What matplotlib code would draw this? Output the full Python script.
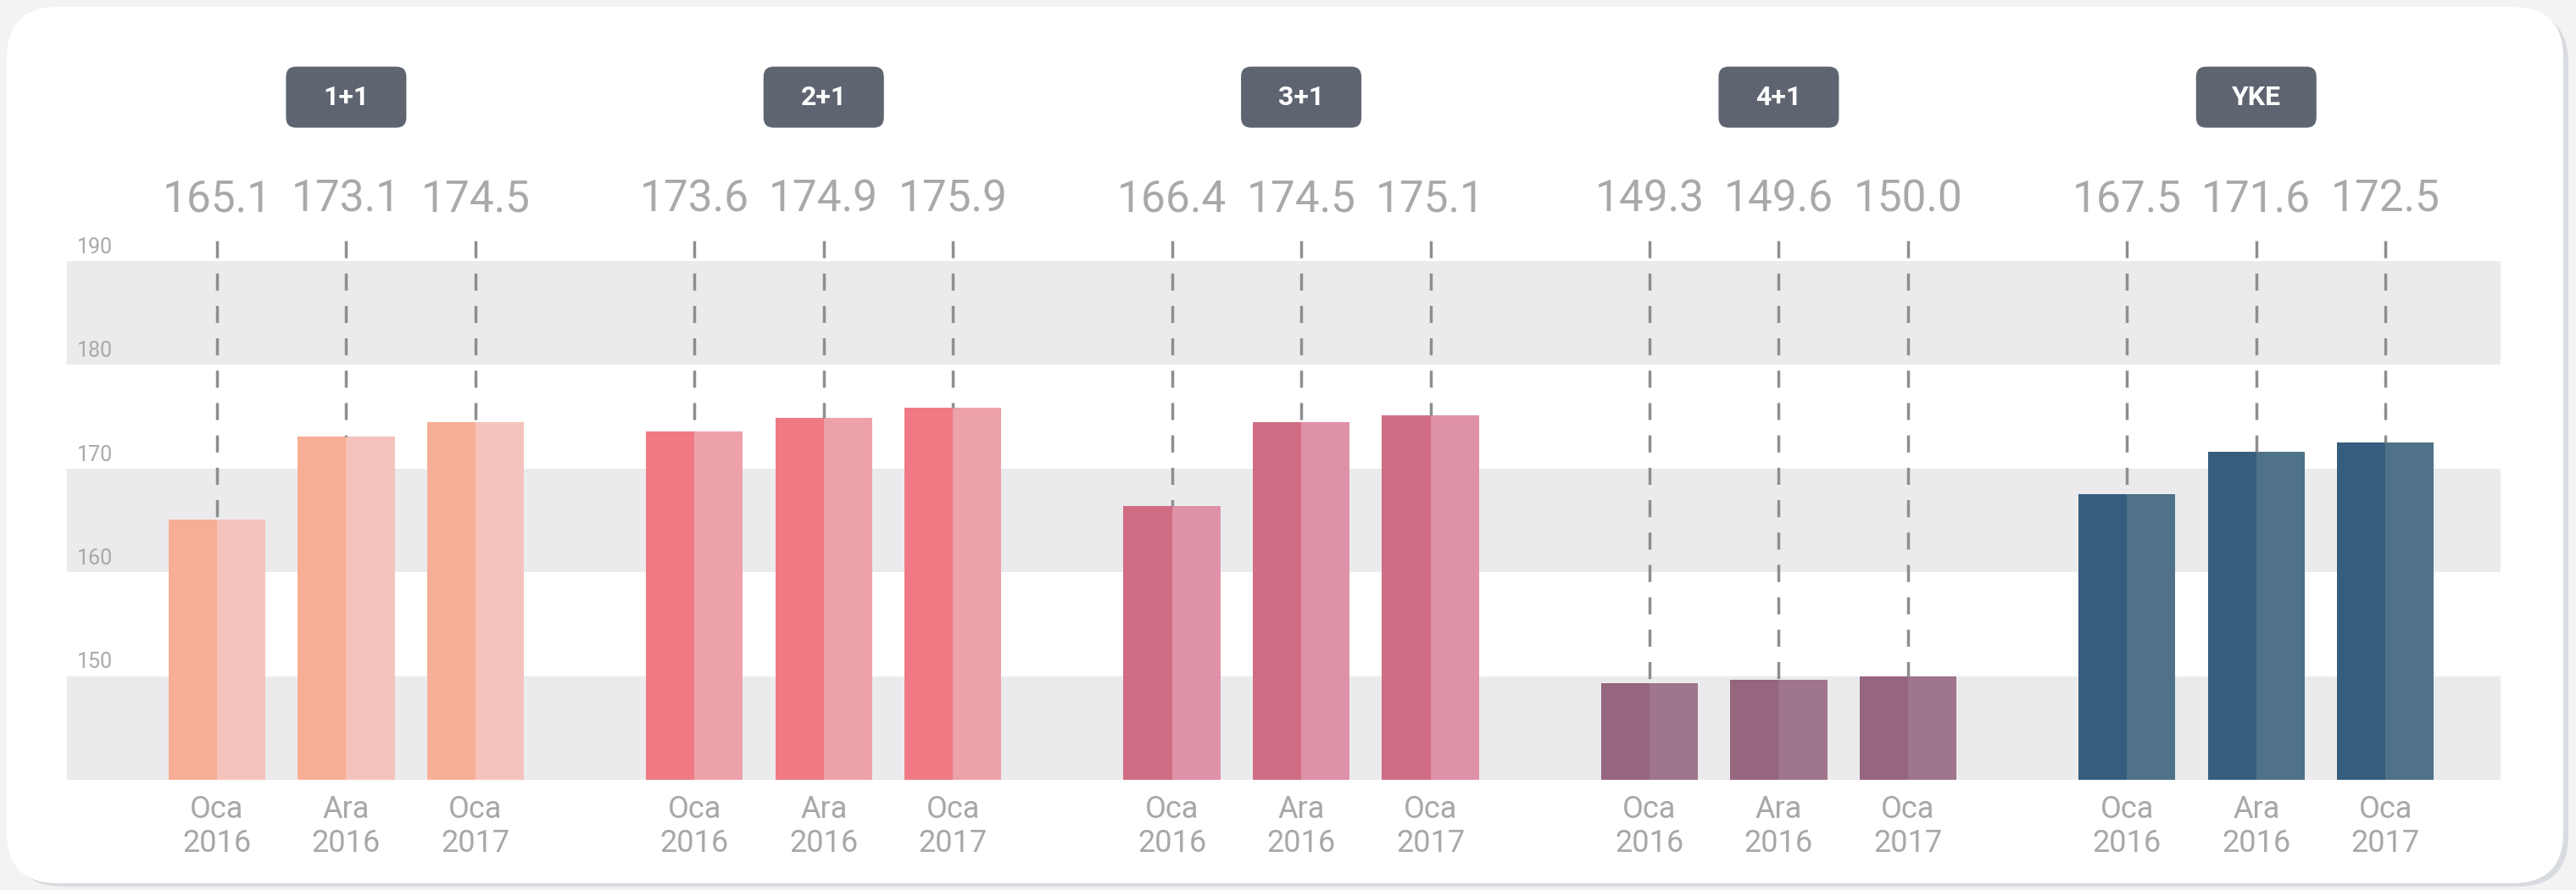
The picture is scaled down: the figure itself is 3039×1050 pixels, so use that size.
import matplotlib.pyplot as plt
import matplotlib.transforms as mtransforms
from matplotlib.patches import FancyBboxPatch
import numpy as np

plt.rcParams['font.family'] = ['Roboto', 'DejaVu Sans']

# data
groups = ['1+1', '2+1', '3+1', '4+1', 'YKE']
periods = ['Oca\n2016', 'Ara\n2016', 'Oca\n2017']
values = [
    [165.1, 173.1, 174.5],
    [173.6, 174.9, 175.9],
    [166.4, 174.5, 175.1],
    [149.3, 149.6, 150.0],
    [167.5, 171.6, 172.5],
]
yticks = [150, 160, 170, 180, 190]
dark_colors = ['#F7AE96', '#EF7A84', '#D06D84', '#96657E', '#375D7E']
light_colors = ['#F4C4BC', '#EDA1AA', '#DF91A7', '#9F768C', '#4F7288']

W, H, DPI = 3039, 1050, 100
fig = plt.figure(figsize=(W / DPI, H / DPI), dpi=DPI)
fig.patch.set_facecolor('#F3F3F3')

# card with a soft shadow
px = mtransforms.IdentityTransform()
shadow = FancyBboxPatch((14, 4), 3016, 1032, boxstyle='round,pad=0,rounding_size=60',
                        transform=px, facecolor='#D8DBDF', edgecolor='none', zorder=0)
card = FancyBboxPatch((8, 8), 3016, 1034, boxstyle='round,pad=0,rounding_size=60',
                      transform=px, facecolor='white', edgecolor='none', zorder=1)
fig.add_artist(shadow)
fig.add_artist(card)

ax = fig.add_axes([79 / W, 130 / H, 2871 / W, 612 / H])
ax.set_facecolor('none')
ax.set_zorder(2)

step = 3.694
bar_w = 0.75
ax.set_xlim(-1.16, 2 + 4 * step + 0.89)
ax.set_ylim(140, 190)

# gray bands
for lo in [140, 160, 180]:
    ax.axhspan(lo, lo + 10, color='#EBEBED', lw=0, zorder=0)

xs_all = []
for g, name in enumerate(groups):
    xs = g * step + np.arange(3)
    xs_all.extend(xs)
    vals = values[g]
    ax.bar(xs - bar_w / 4, vals, bar_w / 2, color=dark_colors[g], zorder=2)
    ax.bar(xs + bar_w / 4, vals, bar_w / 2, color=light_colors[g], zorder=2)
    for x, v in zip(xs, vals):
        ax.plot([x, x], [192, v], color='#8C8E90', lw=2.5,
                linestyle=(0, (5.8, 5.2)), clip_on=False, zorder=3)
        ax.text(x, 195.9, f'{v:.1f}', ha='center', va='center', fontsize=37,
                color='#A7A9AB', clip_on=False)

    # header box
    cx, cy = ax.transData.transform((xs[1], 205.8))
    bw, bh = 142, 72
    box = FancyBboxPatch((cx - bw / 2, cy - bh / 2), bw, bh,
                         boxstyle='round,pad=0,rounding_size=12', transform=px,
                         facecolor='#5E6570', edgecolor='none', zorder=3)
    fig.add_artist(box)
    fig.text(cx / W, cy / H, name, ha='center', va='center', fontsize=23,
             fontweight='bold', color='white', zorder=4)

# y tick labels sitting above band edges
for t in yticks:
    ax.annotate(str(t), xy=(0.004, t), xycoords=ax.get_yaxis_transform(),
                xytext=(0, 3), textcoords='offset points', ha='left', va='bottom',
                fontsize=18, color='#A7A9AB', annotation_clip=False)

ax.set_xticks(xs_all)
ax.set_xticklabels(periods * len(groups), fontsize=26, color='#A6A8AA', linespacing=1.15)
ax.tick_params(axis='x', length=0, pad=12)
ax.set_yticks([])
for s in ax.spines.values():
    s.set_visible(False)

fig.savefig('out.png', dpi=DPI, facecolor=fig.get_facecolor())
